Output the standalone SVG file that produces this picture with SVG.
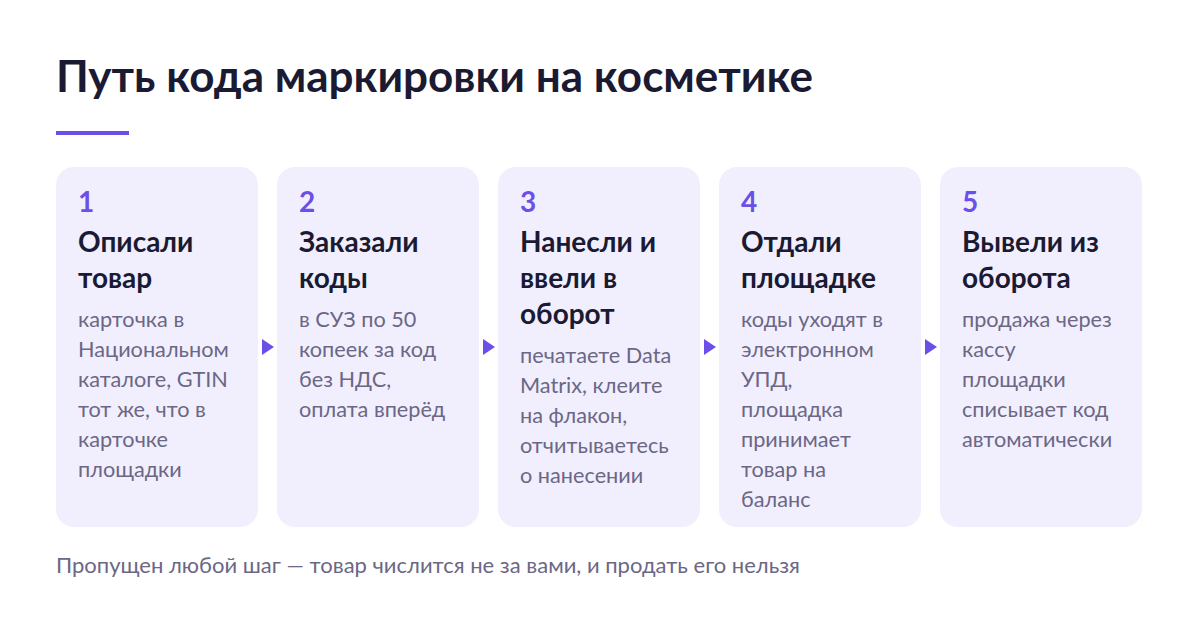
<svg xmlns="http://www.w3.org/2000/svg" width="1200" height="642" viewBox="0 0 1200 642">
<style>
.card{fill:#f1effd}
.num{font-family:Lato,"Noto Sans",sans-serif;font-size:28px;font-weight:700;fill:#6c4fe8}
.head{font-family:Lato,"Noto Sans",sans-serif;font-size:28px;font-weight:700;fill:#1b1a33}
.desc{font-family:Lato,"Noto Sans",sans-serif;font-size:21.7px;fill:#6b6785}
.arrow{fill:#6c4fe8}
</style>
<rect width="1200" height="642" fill="#ffffff"/>
<text x="56" y="92" font-family="Lato, 'Noto Sans', sans-serif" font-size="44" font-weight="700" fill="#1b1a33">Путь кода маркировки на косметике</text>
<rect x="56" y="131" width="73" height="4" fill="#6c4fe8"/>
<g id="step1">
<rect class="card" x="56" y="167" width="202" height="360" rx="18"/>
<text class="num" x="78" y="212">1</text>
<text class="head" x="78" y="252">Описали</text>
<text class="head" x="78" y="288">товар</text>
<text class="desc"><tspan x="78" y="327">карточка в</tspan><tspan x="78" y="357">Национальном</tspan><tspan x="78" y="387">каталоге, GTIN</tspan><tspan x="78" y="417">тот же, что в</tspan><tspan x="78" y="447">карточке</tspan><tspan x="78" y="477">площадки</tspan></text>
</g>
<g id="step2">
<rect class="card" x="277" y="167" width="202" height="360" rx="18"/>
<text class="num" x="299" y="212">2</text>
<text class="head" x="299" y="252">Заказали</text>
<text class="head" x="299" y="288">коды</text>
<text class="desc"><tspan x="299" y="327">в СУЗ по 50</tspan><tspan x="299" y="357">копеек за код</tspan><tspan x="299" y="387">без НДС,</tspan><tspan x="299" y="417">оплата вперёд</tspan></text>
</g>
<g id="step3">
<rect class="card" x="498" y="167" width="202" height="360" rx="18"/>
<text class="num" x="520" y="212">3</text>
<text class="head" x="520" y="252">Нанесли и</text>
<text class="head" x="520" y="288">ввели в</text>
<text class="head" x="520" y="324">оборот</text>
<text class="desc"><tspan x="520" y="363">печатаете Data</tspan><tspan x="520" y="393">Matrix, клеите</tspan><tspan x="520" y="423">на флакон,</tspan><tspan x="520" y="453">отчитываетесь</tspan><tspan x="520" y="483">о нанесении</tspan></text>
</g>
<g id="step4">
<rect class="card" x="719" y="167" width="202" height="360" rx="18"/>
<text class="num" x="741" y="212">4</text>
<text class="head" x="741" y="252">Отдали</text>
<text class="head" x="741" y="288">площадке</text>
<text class="desc"><tspan x="741" y="327">коды уходят в</tspan><tspan x="741" y="357">электронном</tspan><tspan x="741" y="387">УПД,</tspan><tspan x="741" y="417">площадка</tspan><tspan x="741" y="447">принимает</tspan><tspan x="741" y="477">товар на</tspan><tspan x="741" y="507">баланс</tspan></text>
</g>
<g id="step5">
<rect class="card" x="940" y="167" width="202" height="360" rx="18"/>
<text class="num" x="962" y="212">5</text>
<text class="head" x="962" y="252">Вывели из</text>
<text class="head" x="962" y="288">оборота</text>
<text class="desc"><tspan x="962" y="327">продажа через</tspan><tspan x="962" y="357">кассу</tspan><tspan x="962" y="387">площадки</tspan><tspan x="962" y="417">списывает код</tspan><tspan x="962" y="447">автоматически</tspan></text>
</g>
<g id="connectors">
<polygon class="arrow" points="262,339 274,347 262,355"/>
<polygon class="arrow" points="483,339 495,347 483,355"/>
<polygon class="arrow" points="704,339 716,347 704,355"/>
<polygon class="arrow" points="925,339 937,347 925,355"/>
</g>
<text x="56" y="573" font-family="Lato, 'Noto Sans', sans-serif" font-size="22" fill="#6b6785">Пропущен любой шаг — товар числится не за вами, и продать его нельзя</text>
</svg>
